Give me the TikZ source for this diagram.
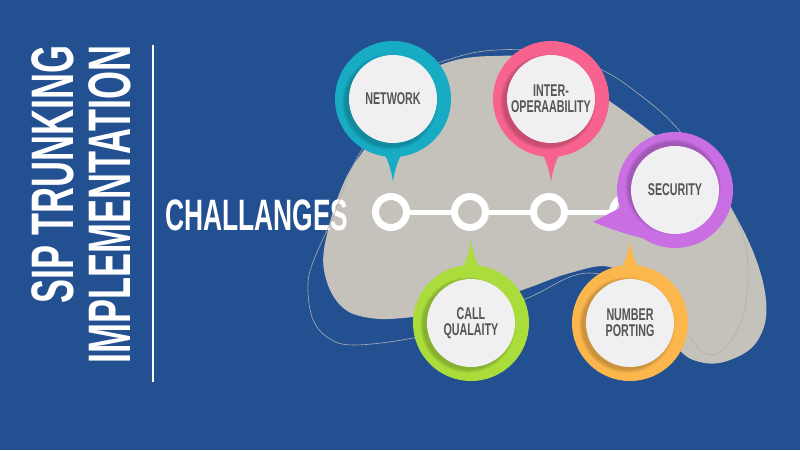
\documentclass[tikz,border=0pt]{standalone}
\usepackage{fontspec}
\newfontfamily\bebas{Liberation Sans Bold}[FakeStretch=0.6]
\newfontfamily\bebasc{Liberation Sans Bold}[FakeStretch=0.63]
\usetikzlibrary{calc}
\definecolor{bgblue}{RGB}{34,80,145}
\definecolor{blobgray}{RGB}{197,194,187}
\definecolor{teal1}{RGB}{24,172,196}
\definecolor{pink1}{RGB}{247,99,142}
\definecolor{purple1}{RGB}{202,110,228}
\definecolor{green1}{RGB}{170,220,60}
\definecolor{orange1}{RGB}{252,183,76}
\definecolor{innerc}{RGB}{240,240,242}
\definecolor{textc}{RGB}{85,85,88}
\definecolor{thinline}{RGB}{175,175,178}
\tikzset{
  titletext/.style={text=white, inner sep=0pt, font=\bebas\fontsize{60}{60}\selectfont},
  dotring/.style={circle, draw=white, line width=7pt, fill=blobgray, minimum size=31pt, inner sep=0pt},
  outerc/.style={circle, fill=#1, minimum size=116pt, inner sep=0pt},
  innercirc/.style={circle, fill=innerc, minimum size=88pt, inner sep=0pt, align=center,
     text=textc, font=\bebasc\fontsize{17}{16}\selectfont},
}
% straight-pointer tail: #1 x, #2 y, #3 rotation, #4 length, #5 colour
\newcommand\calltail[5]{%
  \begin{scope}[shift={(#1,#2)}, rotate=#3]
    \fill[#5] (-20,40) .. controls (-10,50) and (-3,62) .. (0,#4)
              .. controls (3,62) and (10,50) .. (20,40) -- cycle;
  \end{scope}}
% #1 name, #2 x, #3 y, #4 colour, #5 text, #6 shadow offset
\newcommand\callout[6]{%
  \begin{scope}[shift={(#2,#3)}]
    \node[outerc=#4] (#1) at (0,0) {};
    \foreach \rr in {44.8,45.8,46.8,47.8}
      \fill[black, opacity=0.05] (#6) circle[radius=\rr pt];
    \node[innercirc] (#1-t) at (0,0) {#5};
  \end{scope}}
\begin{document}
\begin{tikzpicture}[x=1pt,y=-1pt]
\useasboundingbox (0,0) rectangle (800,450);
\fill[bgblue] (0,0) rectangle (800,450);

% title
\node[titletext, rotate=90, anchor=base east] (t1) at (73,45) {SIP TRUNKING};
\node[titletext, rotate=90, anchor=base east] (t2) at (130,45) {IMPLEMENTATION};
\coordinate (v1) at (153,45);
\coordinate (v2) at (153,382);
\draw[white, line width=2pt] (v1) -- (v2);

% blob
\fill[blobgray] plot[smooth cycle, tension=0.65] coordinates {
  (367,145) (400,90) (443,64) (493,56) (550,62) (608,100) (655,135) (710,180)
  (748,240) (766,300) (758,340) (730,360) (700,362) (675,345) (640,290)
  (610,267) (570,273) (528,288) (470,308) (413,317) (370,318) (340,305)
  (324,270) (328,230) (345,180)};

% challenges label
\node[anchor=base west, inner sep=0pt, text=white, font=\bebas\fontsize{44}{44}\selectfont] (ch) at (165,230) {CHALLANGES};

% thin outline
\draw[thinline, line width=0.6pt] plot[smooth cycle, tension=0.6] coordinates {
  (372,135) (420,75) (457,57) (497,50) (550,52) (602,70) (640,95) (677,128)
  (715,180) (740,227) (748,267) (743,317) (724,349) (706,354) (690,338)
  (660,300) (590,273) (530,297) (470,322) (413,338) (353,345) (327,337)
  (312,317) (308,283) (315,257) (333,217) (350,172)};

% timeline
\node[dotring] (c1) at (391,212) {};
\node[dotring] (c2) at (470,212) {};
\node[dotring] (c3) at (549,212) {};
\node[dotring] (c4) at (628,212) {};
\draw[white, line width=5pt] (c1) -- (c2) (c2) -- (c3) (c3) -- (c4);

% callouts
\calltail{393}{99}{0}{83}{teal1}
\callout{net}{393}{99}{teal1}{NETWORK}{-3,3}
\calltail{551}{99}{0}{83}{pink1}
\callout{inter}{551}{99}{pink1}{INTER-\\OPERAABILITY}{-3,3}
\calltail{471}{323}{180}{83}{green1}
\callout{call}{471}{323}{green1}{CALL\\QUALAITY}{-3,2}
\calltail{630}{323}{180}{82}{orange1}
\callout{num}{630}{323}{orange1}{NUMBER\\PORTING}{-3,2}
\fill[purple1] (593,222) .. controls (605,216) and (615,210) .. (632,202)
   -- (660,220) -- (642,238) .. controls (625,234) and (608,228) .. (593,222) -- cycle;
\callout{sec}{675}{190}{purple1}{SECURITY}{-2,-3}
\end{tikzpicture}
\end{document}
